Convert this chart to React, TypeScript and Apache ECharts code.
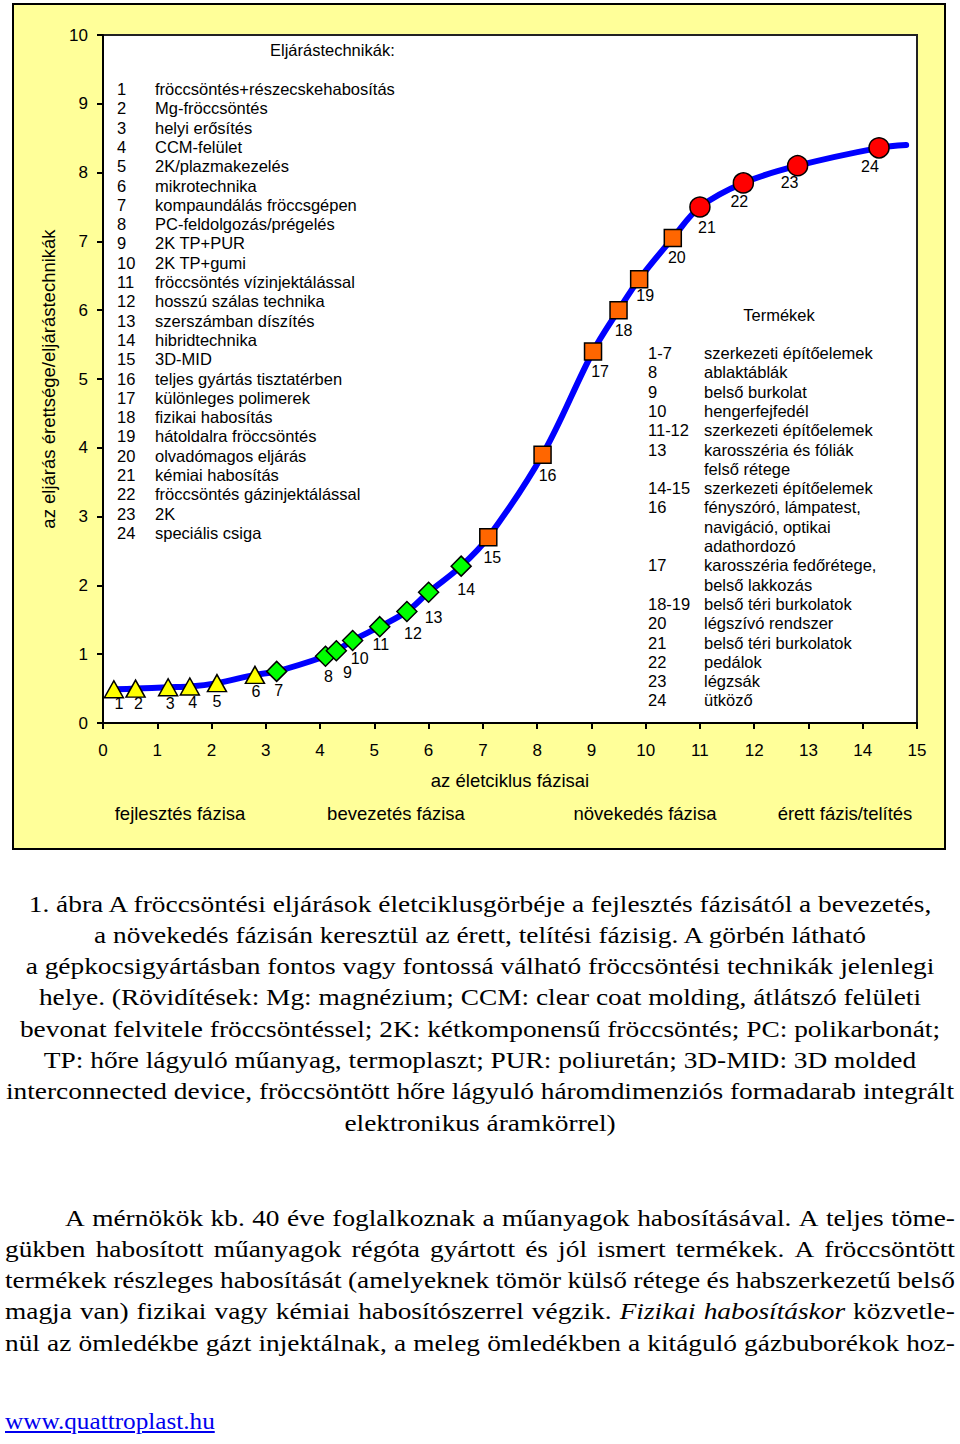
import React, { useEffect, useRef } from "react";
import * as echarts from "echarts";

const SANS = '"Liberation Sans", Arial, Helvetica, sans-serif';
const SERIF = '"Liberation Serif", "Times New Roman", Times, serif';

// ---- data ----
const POINT_NUMBERS = [1, 2, 3, 4, 5, 6, 7, 8, 9, 10, 11, 12, 13, 14, 15, 16, 17, 18, 19, 20, 21, 22, 23, 24];
const POINT_X = [0.2, 0.6, 1.2, 1.6, 2.1, 2.8, 3.2, 4.1, 4.3, 4.6, 5.1, 5.6, 6.0, 6.6, 7.1, 8.1, 9.03, 9.5, 9.88, 10.5, 11.0, 11.8, 12.8, 14.3];
const POINT_Y = [0.49, 0.5, 0.52, 0.53, 0.58, 0.7, 0.75, 0.97, 1.05, 1.2, 1.4, 1.62, 1.9, 2.28, 2.7, 3.9, 5.4, 6.0, 6.45, 7.05, 7.5, 7.85, 8.1, 8.36];
const CURVE_TAIL = [14.8, 8.4];

const TRIANGLE_POINTS = [1, 2, 3, 4, 5, 6];
const DIAMOND_POINTS = [7, 8, 9, 10, 11, 12, 13, 14];
const SQUARE_POINTS = [15, 16, 17, 18, 19, 20];
const CIRCLE_POINTS = [21, 22, 23, 24];

const X_AXIS_NAME = "az életciklus fázisai";
const Y_AXIS_NAME = "az eljárás érettsége/eljárástechnikák";
const PHASES = ["fejlesztés fázisa", "bevezetés fázisa", "növekedés fázisa", "érett fázis/telítés"];

const TECH_TITLE = "Eljárástechnikák:";
const TECH_NAMES = [
  "fröccsöntés+részecskehabosítás",
  "Mg-fröccsöntés",
  "helyi erősítés",
  "CCM-felület",
  "2K/plazmakezelés",
  "mikrotechnika",
  "kompaundálás fröccsgépen",
  "PC-feldolgozás/prégelés",
  "2K TP+PUR",
  "2K TP+gumi",
  "fröccsöntés vízinjektálással",
  "hosszú szálas technika",
  "szerszámban díszítés",
  "hibridtechnika",
  "3D-MID",
  "teljes gyártás tisztatérben",
  "különleges polimerek",
  "fizikai habosítás",
  "hátoldalra fröccsöntés",
  "olvadómagos eljárás",
  "kémiai habosítás",
  "fröccsöntés gázinjektálással",
  "2K",
  "speciális csiga",
];

const PRODUCT_TITLE = "Termékek";
const PRODUCT_CODES = ["1-7", "8", "9", "10", "11-12", "13", "", "14-15", "16", "", "", "17", "", "18-19", "20", "21", "22", "23", "24"];
const PRODUCT_NAMES = [
  "szerkezeti építőelemek",
  "ablaktáblák",
  "belső burkolat",
  "hengerfejfedél",
  "szerkezeti építőelemek",
  "karosszéria és fóliák",
  "felső rétege",
  "szerkezeti építőelemek",
  "fényszóró, lámpatest,",
  "navigáció, optikai",
  "adathordozó",
  "karosszéria fedőrétege,",
  "belső lakkozás",
  "belső téri burkolatok",
  "légszívó rendszer",
  "belső téri burkolatok",
  "pedálok",
  "légzsák",
  "ütköző",
];

const CAPTION_LINES = [
  "1. ábra A fröccsöntési eljárások életciklusgörbéje a fejlesztés fázisától a bevezetés,",
  "a növekedés fázisán keresztül az érett, telítési fázisig. A görbén látható",
  "a gépkocsigyártásban fontos vagy fontossá válható fröccsöntési technikák jelenlegi",
  "helye. (Rövidítések: Mg: magnézium; CCM: clear coat molding, átlátszó felületi",
  "bevonat felvitele fröccsöntéssel; 2K: kétkomponensű fröccsöntés; PC: polikarbonát;",
  "TP: hőre lágyuló műanyag, termoplaszt; PUR: poliuretán; 3D-MID: 3D molded",
  "interconnected device, fröccsöntött hőre lágyuló háromdimenziós formadarab integrált",
  "elektronikus áramkörrel)",
];

// words wrapped in *...* are italic
const PARAGRAPH_LINES = [
  "A mérnökök kb. 40 éve foglalkoznak a műanyagok habosításával. A teljes töme-",
  "gükben habosított műanyagok régóta gyártott és jól ismert termékek. A fröccsöntött",
  "termékek részleges habosítását (amelyeknek tömör külső rétege és habszerkezetű belső",
  "magja van) fizikai vagy kémiai habosítószerrel végzik. *Fizikai* *habosításkor* közvetle-",
  "nül az ömledékbe gázt injektálnak, a meleg ömledékben a kitáguló gázbuborékok hoz-",
];
const LINK_TEXT = "www.quattroplast.hu";

// ---- styling (label offsets relative to marker centre, px) ----
const LABEL_OFFSETS: number[][] = [
  [5, 14], [3, 15], [2, 16], [3, 16], [0, 18], [1, 17], [2, 19], [3, 20],
  [11, 22], [7, 18], [1, 18], [6, 22], [5, 25], [5, 23], [4, 20], [5, 21],
  [7, 20], [5, 20], [6, 16], [4, 20], [7, 20], [-4, 19], [-8, 17], [-9, 19],
];

const GRID = { left: 103, top: 35, width: 814, height: 688 };
const TEXT_STRETCH = 1.14;

function txt(text: string, x: number, y: number, size: number, align = "left") {
  return {
    type: "text",
    x,
    y,
    z: 5,
    silent: true,
    style: { text, fontSize: size, fontFamily: SANS, fill: "#000", align, verticalAlign: "middle" },
  };
}

function scatterSeries(points: number[], symbol: string, size: any, color: string) {
  return {
    type: "scatter",
    symbol,
    symbolSize: size,
    z: 3,
    itemStyle: { color, borderColor: "#000", borderWidth: 1.5, opacity: 1 },
    label: {
      show: true,
      position: "inside",
      color: "#000",
      fontSize: 16,
      fontFamily: SANS,
      formatter: (p: any) => p.name,
    },
    data: points.map((n) => {
      const i = n - 1;
      return {
        name: String(POINT_NUMBERS[i]),
        value: [POINT_X[i], POINT_Y[i]],
        label: { offset: LABEL_OFFSETS[i] },
      };
    }),
  };
}

function Chart() {
  const ref = useRef<HTMLDivElement>(null);
  useEffect(() => {
    if (!ref.current) return;
    const chart = echarts.init(ref.current, undefined, { renderer: "svg" });
    const lineH = 19.3;
    const graphics: any[] = [];
    graphics.push(txt(TECH_TITLE, 270, 50, 16.5));
    TECH_NAMES.forEach((name, i) => {
      const y = 89 + i * lineH;
      graphics.push(txt(String(i + 1), 117, y, 16.5));
      graphics.push(txt(name, 155, y, 16.5));
    });
    graphics.push(txt(PRODUCT_TITLE, 779, 315, 16.5, "center"));
    PRODUCT_NAMES.forEach((name, i) => {
      const y = 353 + i * lineH;
      if (PRODUCT_CODES[i]) graphics.push(txt(PRODUCT_CODES[i], 648, y, 16.5));
      graphics.push(txt(name, 704, y, 16.5));
    });
    const phaseX = [180, 396, 645, 845];
    PHASES.forEach((p, i) => graphics.push(txt(p, phaseX[i], 813, 18.5, "center")));

    const curve = POINT_X.map((x, i) => [x, POINT_Y[i]]).concat([CURVE_TAIL]);

    chart.setOption({
      animation: false,
      textStyle: { fontFamily: SANS },
      grid: {
        ...GRID,
        show: true,
        backgroundColor: "#ffffff",
        borderColor: "#222",
        borderWidth: 2,
      },
      xAxis: {
        type: "value",
        min: 0,
        max: 15,
        interval: 1,
        axisLine: { show: true, lineStyle: { color: "#000", width: 2 } },
        axisTick: { show: true, length: 6, lineStyle: { color: "#000", width: 2 } },
        axisLabel: { fontSize: 17, color: "#000", margin: 19, fontFamily: SANS },
        splitLine: { show: false },
        name: X_AXIS_NAME,
        nameLocation: "middle",
        nameGap: 48,
        nameTextStyle: { fontSize: 18.5, color: "#000", fontFamily: SANS },
      },
      yAxis: {
        type: "value",
        min: 0,
        max: 10,
        interval: 1,
        axisLine: { show: true, lineStyle: { color: "#000", width: 2 } },
        axisTick: { show: true, length: 6, lineStyle: { color: "#000", width: 2 } },
        axisLabel: { fontSize: 17, color: "#000", margin: 15, fontFamily: SANS },
        splitLine: { show: false },
        name: Y_AXIS_NAME,
        nameLocation: "middle",
        nameGap: 45,
        nameTextStyle: { fontSize: 18.5, color: "#000", fontFamily: SANS },
      },
      series: [
        {
          type: "line",
          data: curve,
          smooth: 0.35,
          symbol: "none",
          z: 2,
          lineStyle: { color: "#0000ff", width: 6, cap: "round" },
        },
        scatterSeries(TRIANGLE_POINTS, "triangle", [19, 17], "#ffff00"),
        scatterSeries(DIAMOND_POINTS, "diamond", [20, 20], "#00ff00"),
        scatterSeries(SQUARE_POINTS, "rect", [17, 17], "#ff6600"),
        scatterSeries(CIRCLE_POINTS, "circle", [20, 20], "#ff0000"),
      ],
      graphic: graphics,
    });
    return () => chart.dispose();
  }, []);
  return <div ref={ref} style={{ position: "absolute", left: 0, top: 0, width: 960, height: 860 }} />;
}

function JustifiedLine({ text, indent }: { text: string; indent: number }) {
  const words = text.split(" ");
  return (
    <div style={{ display: "flex", justifyContent: "space-between", marginLeft: indent, whiteSpace: "nowrap" }}>
      {words.map((w, i) => {
        const italic = w.startsWith("*") && w.endsWith("*");
        return (
          <span key={i} style={{ fontStyle: italic ? "italic" : "normal" }}>
            {italic ? w.slice(1, -1) : w}
          </span>
        );
      })}
    </div>
  );
}

export default function App() {
  return (
    <div style={{ position: "absolute", left: 0, top: 0, width: 960, height: 1444, background: "#fff", overflow: "hidden" }}>
      <div
        style={{
          position: "absolute",
          left: 12,
          top: 3,
          width: 934,
          height: 847,
          boxSizing: "border-box",
          border: "2px solid #000",
          background: "#ffff99",
        }}
      />
      <Chart />
      <div
        style={{
          position: "absolute",
          left: 0,
          top: 888.5,
          width: 960,
          fontFamily: SERIF,
          fontSize: 24,
          lineHeight: "31.3px",
          textAlign: "center",
          color: "#000",
          transform: `scaleX(${TEXT_STRETCH})`,
          transformOrigin: "480px 0",
        }}
      >
        {CAPTION_LINES.map((l, i) => (
          <div key={i} style={{ whiteSpace: "nowrap" }}>{l}</div>
        ))}
      </div>
      <div
        style={{
          position: "absolute",
          left: 5,
          top: 1202.5,
          width: 950 / TEXT_STRETCH,
          fontFamily: SERIF,
          fontSize: 24,
          lineHeight: "31.3px",
          color: "#000",
          transform: `scaleX(${TEXT_STRETCH})`,
          transformOrigin: "0 0",
        }}
      >
        {PARAGRAPH_LINES.map((l, i) => (
          <JustifiedLine key={i} text={l} indent={i === 0 ? 60 / TEXT_STRETCH : 0} />
        ))}
      </div>
      <a
        href="#"
        style={{
          position: "absolute",
          left: 5,
          top: 1406,
          fontFamily: SERIF,
          fontSize: 24,
          lineHeight: "31px",
          color: "#0000ee",
          textDecoration: "underline",
          transform: "scaleX(1.05)",
          transformOrigin: "0 0",
        }}
      >
        {LINK_TEXT}
      </a>
    </div>
  );
}
